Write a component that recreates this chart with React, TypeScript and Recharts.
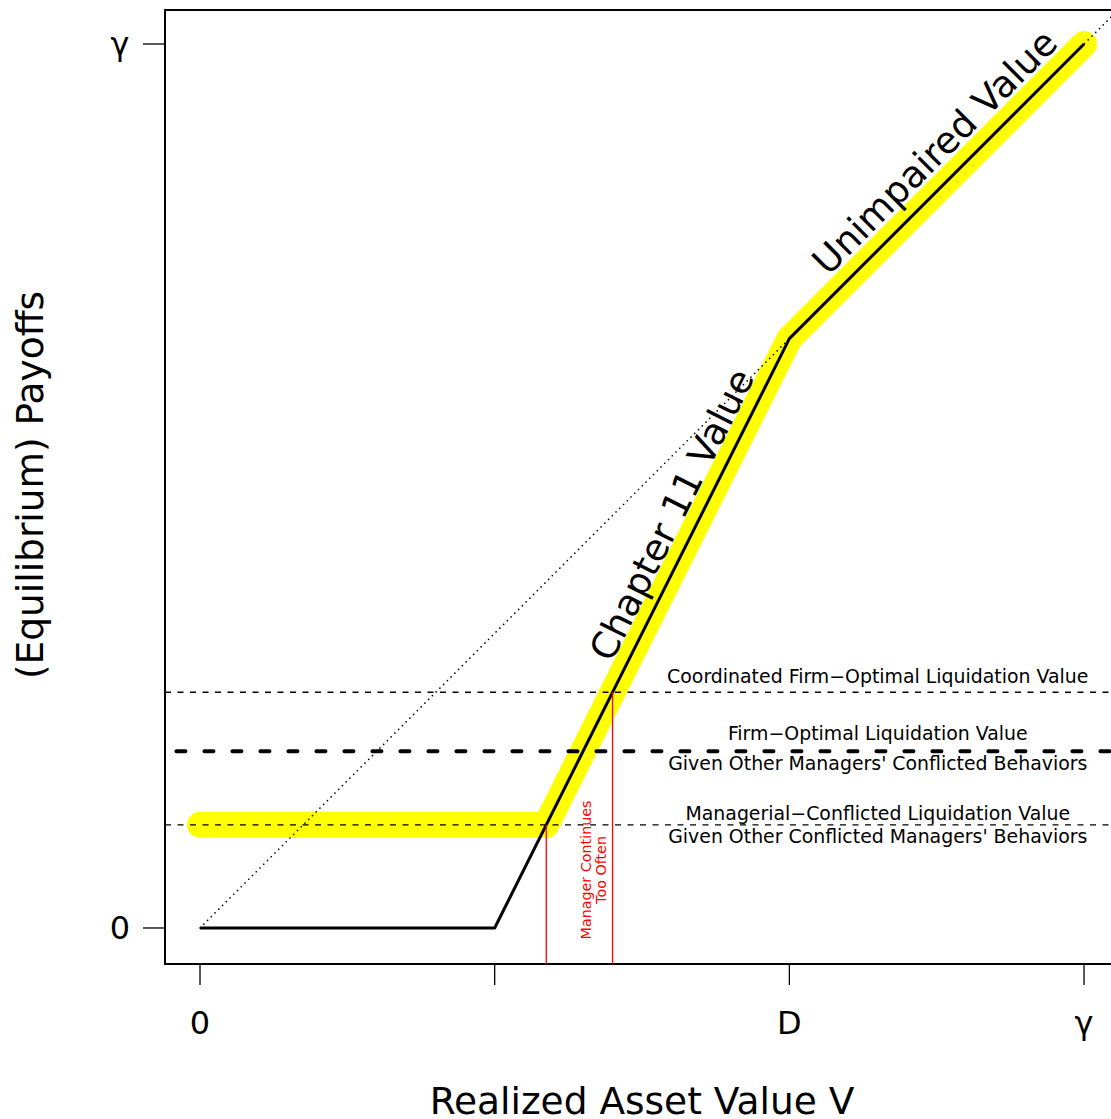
import React from "react";
import { ComposedChart, Line, XAxis, YAxis, ReferenceArea, ReferenceDot } from "recharts";

// axis ranges (data units: 0 .. gamma = 3, D = 2)
const X_MIN = -0.1188;
const X_MAX = 3.139;
const Y_MIN = -0.1222;
const Y_MAX = 3.1154;

const xTicks = [0, 1, 2, 3];
const xTickLabels = ["0", "", "D", "\u03b3"];
const yTicks = [0, 3];
const yTickLabels = ["0", "\u03b3"];

// payoff curves
const payoffLine = [
    { x: 0, y: 0 },
    { x: 1, y: 0 },
    { x: 2, y: 2 },
    { x: 3, y: 3 },
];
const highlightLine = [
    { x: 0, y: 0.35 },
    { x: 1.175, y: 0.35 },
    { x: 2, y: 2 },
    { x: 3, y: 3 },
];
const diagonal = [
    { x: 0, y: 0 },
    { x: 3.3, y: 3.3 },
];

// liquidation value levels
const coordinatedLevel = [
    { x: X_MIN, y: 0.8 },
    { x: X_MAX, y: 0.8 },
];
const firmOptimalLevel = [
    { x: -0.08, y: 0.6 },
    { x: X_MAX, y: 0.6 },
];
const conflictedLevel = [
    { x: X_MIN, y: 0.35 },
    { x: X_MAX, y: 0.35 },
];

// "manager continues too often" bounds
const lowerBound = [
    { x: 1.175, y: Y_MIN },
    { x: 1.175, y: 0.35 },
];
const upperBound = [
    { x: 1.4, y: Y_MIN },
    { x: 1.4, y: 0.8 },
];

const FONT = "DejaVu Sans, Verdana, sans-serif";

const XTick = (props: any) => {
    const { x, y, payload } = props;
    const label = xTickLabels[xTicks.indexOf(payload.value)];
    return (
        <text x={x} y={y + 36} textAnchor="middle" dominantBaseline="central" fontSize={32} fontFamily={FONT} fill="#000">
            {label}
        </text>
    );
};

const YTick = (props: any) => {
    const { x, y, payload } = props;
    const label = yTickLabels[yTicks.indexOf(payload.value)];
    return (
        <text x={x - 23} y={y} textAnchor="middle" dominantBaseline="central" fontSize={32} fontFamily={FONT} fill="#000">
            {label}
        </text>
    );
};

const note = (lines: string[], size: number, angle = 0, color = "#000", gap = 0) => (p: any) => {
    const { cx, cy } = p;
    const start = -((lines.length - 1) * gap) / 2;
    return (
        <g transform={`rotate(${angle} ${cx} ${cy})`}>
            {lines.map((t, i) => (
                <text
                    key={i}
                    x={cx}
                    y={cy + start + i * gap}
                    textAnchor="middle"
                    dominantBaseline="central"
                    fontSize={size}
                    fontFamily={FONT}
                    fill={color}
                >
                    {t}
                </text>
            ))}
        </g>
    );
};

export default function App() {
    return (
        <div style={{ position: "absolute", left: 0, top: 0, width: 1111, height: 1119, overflow: "hidden", background: "#fff" }}>
            <ComposedChart width={1125} height={1119} margin={{ top: 10, right: 0, bottom: 0, left: 0 }}>
                <XAxis
                    type="number"
                    dataKey="x"
                    domain={[X_MIN, X_MAX]}
                    allowDataOverflow
                    ticks={xTicks}
                    tick={<XTick />}
                    tickSize={21}
                    axisLine={false}
                    tickLine={{ stroke: "#000", strokeWidth: 1.3 }}
                    height={155}
                    interval={0}
                    label={{
                        content: (p: any) => {
                            const vb = p.viewBox;
                            return (
                                <text x={vb.x + vb.width / 2 - 3} y={vb.y + 137} textAnchor="middle" dominantBaseline="central" fontSize={37.5} fontFamily={FONT}>
                                    Realized Asset Value V
                                </text>
                            );
                        },
                    }}
                />
                <YAxis
                    type="number"
                    dataKey="y"
                    domain={[Y_MIN, Y_MAX]}
                    allowDataOverflow
                    ticks={yTicks}
                    tick={<YTick />}
                    tickSize={22}
                    tickMargin={0}
                    axisLine={false}
                    tickLine={{ stroke: "#000", strokeWidth: 1.3 }}
                    width={165}
                    interval={0}
                    label={{
                        content: (p: any) => {
                            const vb = p.viewBox;
                            const cx = 30;
                            const cy = vb.y + vb.height / 2 - 2;
                            return (
                                <text x={cx} y={cy} transform={`rotate(-90 ${cx} ${cy})`} textAnchor="middle" dominantBaseline="central" fontSize={37.5} fontFamily={FONT}>
                                    (Equilibrium) Payoffs
                                </text>
                            );
                        },
                    }}
                />

                <Line data={highlightLine} dataKey="y" type="linear" stroke="#ffff00" strokeWidth={26} strokeLinecap="round" strokeLinejoin="round" dot={false} activeDot={false} isAnimationActive={false} />
                <Line data={coordinatedLevel} dataKey="y" type="linear" stroke="#000" strokeWidth={1.3} strokeDasharray="6 6.5" dot={false} activeDot={false} isAnimationActive={false} />
                <Line data={firmOptimalLevel} dataKey="y" type="linear" stroke="#000" strokeWidth={4} strokeDasharray="9 19" strokeLinecap="round" dot={false} activeDot={false} isAnimationActive={false} />
                <Line data={conflictedLevel} dataKey="y" type="linear" stroke="#000" strokeWidth={1.3} strokeDasharray="6 6.5" dot={false} activeDot={false} isAnimationActive={false} />
                <Line data={diagonal} dataKey="y" type="linear" stroke="#000" strokeWidth={1.6} strokeDasharray="0.1 5.2" strokeLinecap="round" dot={false} activeDot={false} isAnimationActive={false} />
                <Line data={payoffLine} dataKey="y" type="linear" stroke="#000" strokeWidth={3} strokeLinejoin="round" dot={false} activeDot={false} isAnimationActive={false} />
                <Line data={lowerBound} dataKey="y" type="linear" stroke="#ff0000" strokeWidth={1.3} dot={false} activeDot={false} isAnimationActive={false} />
                <Line data={upperBound} dataKey="y" type="linear" stroke="#ff0000" strokeWidth={1.3} dot={false} activeDot={false} isAnimationActive={false} />

                <ReferenceArea x1={X_MIN} x2={X_MAX} y1={Y_MIN} y2={Y_MAX} fill="none" stroke="#000" strokeWidth={2} ifOverflow="visible" />

                <ReferenceDot x={2.3} y={0.855} r={0} ifOverflow="visible" shape={note(["Coordinated Firm\u2212Optimal Liquidation Value"], 18.9)} />
                <ReferenceDot x={2.3} y={0.61} r={0} ifOverflow="visible" shape={note(["Firm\u2212Optimal Liquidation Value", "Given Other Managers' Conflicted Behaviors"], 18.9, 0, "#000", 30)} />
                <ReferenceDot x={2.3} y={0.35} r={0} ifOverflow="visible" shape={note(["Managerial\u2212Conflicted Liquidation Value", "Given Other Conflicted Managers' Behaviors"], 18.9, 0, "#000", 23)} />
                <ReferenceDot x={2.494} y={2.633} r={0} ifOverflow="visible" shape={note(["Unimpaired Value"], 37, -45)} />
                <ReferenceDot x={1.602} y={1.402} r={0} ifOverflow="visible" shape={note(["Chapter 11 Value"], 37, -63.4)} />
                <ReferenceDot x={1.334} y={0.197} r={0} ifOverflow="visible" shape={note(["Manager Continues", "Too Often"], 14.3, -90, "#ff0000", 15)} />
            </ComposedChart>
        </div>
    );
}
